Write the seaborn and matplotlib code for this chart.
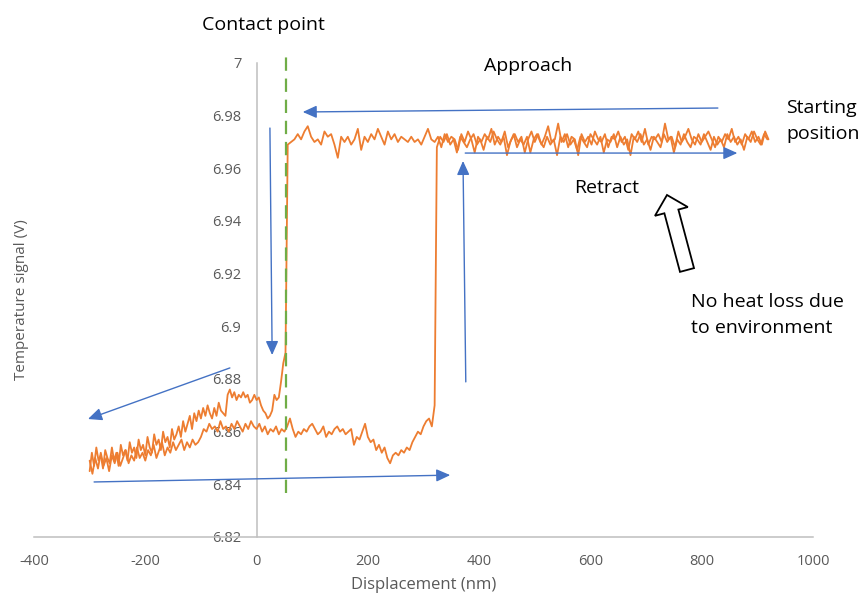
import numpy as np
import pandas as pd
import matplotlib
matplotlib.use("Agg")
import matplotlib.pyplot as plt
import seaborn as sns
from matplotlib.patches import FancyArrow
from matplotlib.transforms import IdentityTransform

# ---------------------------------------------------------------------------
# Temperature signal (mV) along the displacement sweep (nm)
# ---------------------------------------------------------------------------
# Approach, free probe (displacement 56 ... 920 nm, every 6 nm)
top_approach_x = np.arange(56, 921, 6)
top_approach_mv = [
    6969, 6970, 6971, 6973, 6971, 6974, 6976, 6972, 6970, 6971,
    6969, 6974, 6972, 6973, 6969, 6964, 6972, 6970, 6972, 6969,
    6971, 6975, 6967, 6972, 6970, 6973, 6971, 6975, 6972, 6969,
    6974, 6971, 6973, 6970, 6972, 6971, 6970, 6972, 6970, 6971,
    6969, 6972, 6975, 6971, 6970, 6972, 6968, 6973, 6970, 6972,
    6971, 6967, 6973, 6970, 6974, 6971, 6966, 6972, 6970, 6973,
    6971, 6975, 6969, 6972, 6970, 6974, 6968, 6971, 6973, 6970,
    6972, 6966, 6971, 6974, 6970, 6973, 6969, 6972, 6976, 6970,
    6971, 6977, 6970, 6973, 6968, 6972, 6971, 6965, 6973, 6970,
    6972, 6969, 6974, 6971, 6970, 6973, 6968, 6972, 6971, 6974,
    6970, 6972, 6967, 6973, 6971, 6974, 6970, 6975, 6969, 6972,
    6971, 6973, 6970, 6977, 6971, 6972, 6968, 6974, 6970, 6972,
    6975, 6971, 6969, 6973, 6970, 6972, 6974, 6971, 6968, 6972,
    6970, 6973, 6971, 6975, 6970, 6972, 6969, 6973, 6971, 6974,
    6970, 6972, 6969, 6974, 6971,
]

# Approach, in contact (displacement -300 ... 52 nm, every 4 nm)
contact_approach_x = np.arange(-300, 53, 4)
contact_approach_mv = [
    6845, 6852, 6847, 6854, 6849, 6851, 6846, 6853, 6850, 6848,
    6854, 6849, 6852, 6847, 6855, 6851, 6853, 6849, 6856, 6852,
    6854, 6850, 6857, 6853, 6855, 6851, 6858, 6854, 6852, 6859,
    6855, 6857, 6853, 6860, 6856, 6858, 6854, 6861, 6857, 6859,
    6862, 6858, 6864, 6860, 6863, 6866, 6861, 6867, 6864, 6868,
    6865, 6869, 6866, 6870, 6867, 6865, 6869, 6866, 6871, 6868,
    6867, 6866, 6874, 6876, 6873, 6875, 6872, 6874, 6873, 6875,
    6873, 6874, 6871, 6872, 6874, 6872, 6873, 6870, 6868, 6867,
    6865, 6866, 6868, 6874, 6872, 6873, 6879, 6886, 6890,
]

# Retract, in contact (displacement -300 ... 320 nm, every 5 nm)
contact_retract_x = np.arange(-300, 321, 5)
contact_retract_mv = [
    6849, 6844, 6850, 6846, 6852, 6847, 6850, 6845, 6851, 6848,
    6852, 6847, 6850, 6853, 6848, 6851, 6849, 6854, 6850, 6852,
    6849, 6853, 6851, 6855, 6850, 6853, 6856, 6851, 6854, 6852,
    6856, 6853, 6855, 6857, 6853, 6856, 6854, 6857, 6855, 6856,
    6858, 6861, 6860, 6863, 6861, 6862, 6860, 6864, 6861, 6862,
    6860, 6863, 6861, 6864, 6862, 6860, 6863, 6861, 6864, 6862,
    6861, 6863, 6860, 6862, 6859, 6861, 6860, 6862, 6859, 6861,
    6860, 6862, 6865, 6861, 6858, 6860, 6859, 6861, 6860, 6862,
    6863, 6861, 6859, 6860, 6862, 6858, 6860, 6859, 6861, 6862,
    6860, 6861, 6859, 6860, 6861, 6855, 6858, 6857, 6860, 6863,
    6858, 6856, 6857, 6853, 6855, 6852, 6854, 6850, 6848, 6851,
    6852, 6851, 6853, 6852, 6854, 6853, 6856, 6858, 6860, 6859,
    6862, 6864, 6865, 6862, 6870,
]

# Retract, free probe (displacement 324 ... 918 nm, every 6 nm)
top_retract_x = np.arange(324, 919, 6)
top_retract_mv = [
    6968, 6972, 6970, 6973, 6969, 6971, 6966, 6972, 6970, 6968,
    6971, 6973, 6969, 6971, 6967, 6972, 6970, 6974, 6971, 6969,
    6972, 6965, 6970, 6973, 6968, 6971, 6969, 6972, 6966, 6971,
    6973, 6970, 6968, 6972, 6969, 6971, 6965, 6972, 6970, 6973,
    6969, 6971, 6967, 6972, 6970, 6968, 6973, 6971, 6969, 6972,
    6966, 6971, 6970, 6973, 6968, 6972, 6969, 6971, 6965, 6972,
    6970, 6973, 6969, 6971, 6967, 6972, 6970, 6968, 6973, 6970,
    6972, 6966, 6971, 6969, 6973, 6970, 6968, 6972, 6971, 6969,
    6973, 6970, 6967, 6972, 6969, 6971, 6968, 6973, 6970, 6972,
    6969, 6971, 6967, 6972, 6970, 6974, 6971, 6969, 6973, 6971,
]

contact_x = 53          # contact point (nm)
x_ticks = [-400, -200, 0, 200, 400, 600, 800, 1000]
y_ticks = [6.82, 6.84, 6.86, 6.88, 6.90, 6.92, 6.94, 6.96, 6.98, 7.00]
y_tick_labels = ["6.82", "6.84", "6.86", "6.88", "6.9", "6.92", "6.94",
                 "6.96", "6.98", "7"]

# Sweeps in the order they were recorded
approach = pd.DataFrame({
    "x": np.concatenate([top_approach_x[::-1], contact_approach_x[::-1]]),
    "v": np.concatenate([top_approach_mv[::-1], contact_approach_mv[::-1]]) / 1000.0,
})
retract = pd.DataFrame({
    "x": np.concatenate([contact_retract_x, top_retract_x]),
    "v": np.concatenate([contact_retract_mv, top_retract_mv]) / 1000.0,
})

# ---------------------------------------------------------------------------
sns.set_theme(style="white")
plt.rcParams["font.family"] = ["Open Sans", "DejaVu Sans"]
plt.rcParams["axes.unicode_minus"] = False

W, H = 862, 596
fig = plt.figure(figsize=(W / 100, H / 100), dpi=100)
ax = fig.add_axes([34 / W, 59 / H, 779 / W, 474 / H])

ORANGE = "#ED7D31"
BLUE = "#4472C4"
GREEN = "#70AD47"
GREY_TXT = "#595959"
GREY_AX = "#BFBFBF"

for sweep in (approach, retract):
    sns.lineplot(data=sweep, x="x", y="v", sort=False, estimator=None,
                 color=ORANGE, linewidth=1.3, ax=ax, zorder=3)

# contact point marker
ax.plot([contact_x, contact_x], [6.8367, 7.005], color=GREEN, lw=1.6,
        dashes=(6, 3.5), clip_on=False, zorder=4)

ax.set_xlim(-400, 1000)
ax.set_ylim(6.82, 7.0)
ax.set_xticks(x_ticks)
ax.set_yticks(y_ticks)
ax.set_yticklabels(y_tick_labels)

for side in ("top", "right"):
    ax.spines[side].set_visible(False)
ax.spines["left"].set_position(("data", 0))
ax.spines["left"].set_color(GREY_AX)
ax.spines["bottom"].set_color(GREY_AX)
ax.spines["left"].set_linewidth(1.1)
ax.spines["bottom"].set_linewidth(1.1)
ax.spines["left"].set_zorder(1)
ax.tick_params(axis="both", length=0, labelsize=10.5, labelcolor=GREY_TXT)
ax.tick_params(axis="x", pad=12)
ax.tick_params(axis="y", pad=11)
ax.grid(False)

ax.set_xlabel("Displacement (nm)", fontsize=12, color=GREY_TXT)
ax.set_ylabel("Temperature signal (V)", fontsize=11, color=GREY_TXT)
ax.xaxis.set_label_coords(0.5, -0.085)
ax.yaxis.set_label_coords(-0.006, 0.5)

# direction arrows
arrow_kw = dict(arrowstyle="-|>,head_length=0.6,head_width=0.27",
                color=BLUE, lw=1.0, mutation_scale=14, shrinkA=0, shrinkB=0)
arrows = [
    ((829, 6.9829), (83, 6.9814)),
    ((24, 6.9753), (28, 6.8891)),
    ((-48, 6.8842), (-303, 6.8648)),
    ((-292, 6.8409), (348, 6.8435)),
    ((376, 6.8789), (371, 6.9628)),
    ((375, 6.9658), (864, 6.9658)),
]
for start, tip in arrows:
    ax.annotate("", xy=tip, xytext=start, arrowprops=arrow_kw, zorder=5)


def fig_text(px, py, s, **kw):
    fig.text(px / W, 1 - py / H, s, fontsize=14, color="black",
             va="baseline", **kw)


fig_text(263, 30, "Contact point", ha="center")
fig_text(484, 71, "Approach")
fig_text(786, 113, "Starting")
fig_text(786, 139, "position")
fig_text(574, 193, "Retract")
fig_text(691, 307, "No heat loss due")
fig_text(691, 333, "to environment")

# hollow block arrow
fig.add_artist(FancyArrow(687, H - 270, -20, 75, width=14.5, head_width=34,
                          head_length=17, length_includes_head=True,
                          transform=IdentityTransform(), facecolor="white",
                          edgecolor="black", lw=1.3))

fig.savefig("out.png", dpi=100)
